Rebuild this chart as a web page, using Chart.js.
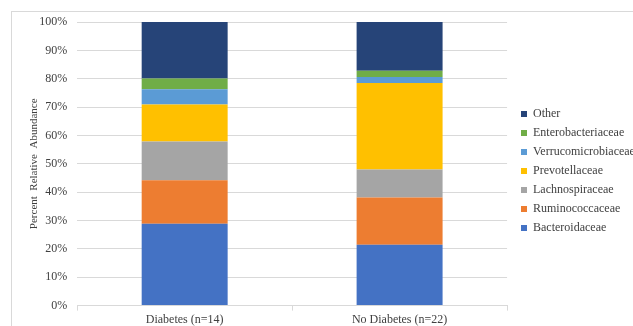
<!DOCTYPE html>
<html>
<head>
<meta charset="utf-8">
<script src="https://cdn.jsdelivr.net/npm/chart.js@4.4.1/dist/chart.umd.min.js"></script>
<style>
  html, body { margin: 0; padding: 0; background: #fff; }
  #wrap { position: relative; width: 633px; height: 326px; }
  #frame { position: absolute; left: 11px; top: 11px; width: 640px; height: 340px;
           border-left: 1px solid #d9d9d9; border-top: 1px solid #d9d9d9; }
  canvas { position: absolute; left: 0; top: 0; }
</style>
</head>
<body>
<div id="wrap">
  <div id="frame"></div>
  <canvas id="abundanceChart" width="633" height="326"></canvas>
</div>
<script>
// 数据
const groups = ['Diabetes (n=14)', 'No Diabetes (n=22)'];
const families = ['Bacteroidaceae', 'Ruminococcaceae', 'Lachnospiraceae', 'Prevotellaceae',
                  'Verrucomicrobiaceae', 'Enterobacteriaceae', 'Other'];
const bacteroidaceae = [28.9, 21.5];
const ruminococcaceae = [15.3, 16.6];
const lachnospiraceae = [13.7, 9.9];
const prevotellaceae = [13.0, 30.5];
const verrucomicrobiaceae = [5.4, 2.1];
const enterobacteriaceae = [3.8, 2.2];
const other = [19.9, 17.2];
const yTicks = [0, 10, 20, 30, 40, 50, 60, 70, 80, 90, 100];

const seriesValues = [bacteroidaceae, ruminococcaceae, lachnospiraceae, prevotellaceae,
                      verrucomicrobiaceae, enterobacteriaceae, other];
const colors = ['#4472C4', '#ED7D31', '#A5A5A5', '#FFC000', '#5B9BD5', '#70AD47', '#264478'];

const serif = 'Liberation Serif';
const textColor = '#404040';

// 把图例放到固定位置
const legendPin = {
    id: 'legendPin',
    beforeDraw(chart) {
        const lg = chart.legend;
        const w = lg.right - lg.left;
        const h = lg.bottom - lg.top;
        lg.left = 514;
        lg.right = lg.left + w;
        lg.top = 101;
        lg.bottom = lg.top + h;
    }
};

const ctx = document.getElementById('abundanceChart').getContext('2d');
const abundanceChart = new Chart(ctx, {
    type: 'bar',
    data: {
        labels: groups,
        datasets: families.map((name, i) => ({
            label: name,
            data: seriesValues[i],
            backgroundColor: colors[i],
            borderWidth: 0,
            barPercentage: 1,
            categoryPercentage: 0.4
        }))
    },
    options: {
        responsive: false,
        animation: false,
        layout: { padding: { left: 26, top: 22, right: -5, bottom: -3 } },
        plugins: {
            tooltip: { enabled: false },
            legend: {
                position: 'right',
                align: 'start',
                reverse: true,
                labels: {
                    boxWidth: 6,
                    boxHeight: 6,
                    padding: 7,
                    color: textColor,
                    font: { family: serif, size: 12 }
                }
            }
        },
        scales: {
            x: {
                stacked: true,
                grid: {
                    display: true,
                    drawOnChartArea: false,
                    tickLength: 5,
                    color: '#d9d9d9'
                },
                border: { color: '#d9d9d9' },
                ticks: {
                    padding: 2,
                    color: textColor,
                    font: { family: serif, size: 12 }
                }
            },
            y: {
                stacked: true,
                min: 0,
                max: 100,
                afterBuildTicks: (scale) => { scale.ticks = yTicks.map(v => ({ value: v })); },
                grid: { color: '#d9d9d9', drawTicks: false },
                border: { display: false },
                ticks: {
                    padding: 10,
                    color: textColor,
                    font: { family: serif, size: 12 },
                    callback: (v) => v + '%'
                },
                title: {
                    display: true,
                    text: 'Percent  Relative  Abundance',
                    padding: { top: 2, bottom: -12 },
                    color: textColor,
                    font: { family: serif, size: 11 }
                }
            }
        }
    },
    plugins: [legendPin]
});
</script>
</body>
</html>
